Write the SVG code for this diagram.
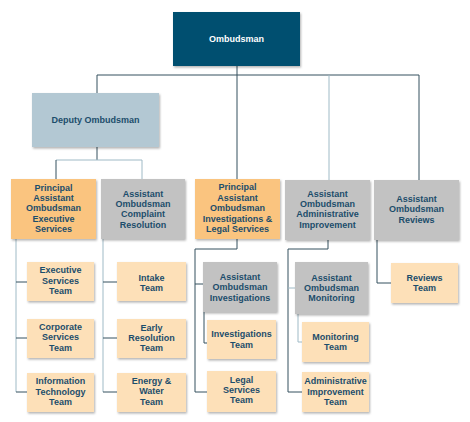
<svg xmlns="http://www.w3.org/2000/svg" width="470" height="422" viewBox="0 0 470 422">
<defs>
<filter id="sh" x="-10%" y="-10%" width="130%" height="130%">
<feDropShadow dx="1" dy="1.5" stdDeviation="1" flood-color="#000" flood-opacity="0.3"/>
</filter>
<style>
text{font-family:"Liberation Sans",Arial,sans-serif;font-size:9px;font-weight:bold;fill:#1c4d6b;text-anchor:middle}
.top rect{fill:#03506f}
.top text{fill:#ffffff}
rect{filter:url(#sh)}
.dep rect{fill:#b3c8d3}
.pri rect{fill:#fac47f}
.grey rect{fill:#c2c2c2}
.team rect{fill:#fde0b8}
.c path{fill:none;stroke:#34505e;stroke-width:1}
.c path.l{stroke:#9fbac6}
</style>
</defs>
<rect width="470" height="422" fill="#ffffff" style="filter:none"/>
<g class="c" id="connectors">
<path d="M237 66V75"/>
<path d="M97 75H419"/>
<path d="M97 75V93"/>
<path d="M237 75V179"/>
<path class="l" d="M329 75V180"/>
<path d="M419 75V180"/>
<path d="M97 147V160"/>
<path class="l" d="M56 160H142"/>
<path d="M56 160V179"/>
<path class="l" d="M142 160V179"/>
<path class="l" d="M16 239V392"/>
<path d="M16 282H27M16 338H27M16 392H27"/>
<path class="l" d="M103 239V392"/>
<path d="M103 282H117M103 338H117M103 392H117"/>
<path d="M237 239V249H195V392H207"/>
<path d="M195 284H203"/>
<path d="M204 312V343H207"/>
<path d="M328 240V249H288V392H302"/>
<path class="l" d="M288 288H295"/>
<path class="l" d="M298 314V342H302"/>
<path d="M377 240V283H391"/>
</g>
<g id="ombudsman" class="top"><rect x="173" y="12" width="127" height="54"/><text x="236.5" y="42.3">Ombudsman</text></g>
<g id="deputy" class="dep"><rect x="32" y="93" width="127" height="54"/><text x="95.5" y="123.3">Deputy Ombudsman</text></g>
<g id="pao-exec" class="pri"><rect x="11" y="179" width="85" height="60"/><text><tspan x="53.5" y="190.5">Principal</tspan><tspan x="53.5" y="200.9">Assistant</tspan><tspan x="53.5" y="211.3">Ombudsman</tspan><tspan x="53.5" y="221.7">Executive</tspan><tspan x="53.5" y="232.1">Services</tspan></text></g>
<g id="ao-complaint" class="grey"><rect x="101" y="179" width="84" height="60"/><text><tspan x="143" y="196.5">Assistant</tspan><tspan x="143" y="206.8">Ombudsman</tspan><tspan x="143" y="217.2">Complaint</tspan><tspan x="143" y="227.6">Resolution</tspan></text></g>
<g id="pao-inv" class="pri"><rect x="195" y="179" width="85" height="60"/><text><tspan x="237.5" y="190">Principal</tspan><tspan x="237.5" y="200.5">Assistant</tspan><tspan x="237.5" y="211">Ombudsman</tspan><tspan x="237.5" y="221.5">Investigations &amp;</tspan><tspan x="237.5" y="232">Legal Services</tspan></text></g>
<g id="ao-admin" class="grey"><rect x="285" y="180" width="85" height="60"/><text><tspan x="327.5" y="196.6">Assistant</tspan><tspan x="327.5" y="207">Ombudsman</tspan><tspan x="327.5" y="217.4">Administrative</tspan><tspan x="327.5" y="227.8">Improvement</tspan></text></g>
<g id="ao-reviews" class="grey"><rect x="374" y="180" width="85" height="60"/><text><tspan x="416.5" y="202">Assistant</tspan><tspan x="416.5" y="212.4">Ombudsman</tspan><tspan x="416.5" y="222.8">Reviews</tspan></text></g>
<g id="exec-team" class="team"><rect x="27" y="262" width="67" height="39"/><text><tspan x="60.5" y="273.3">Executive</tspan><tspan x="60.5" y="283.7">Services</tspan><tspan x="60.5" y="294.1">Team</tspan></text></g>
<g id="corp-team" class="team"><rect x="27" y="319" width="67" height="39"/><text><tspan x="60.5" y="330">Corporate</tspan><tspan x="60.5" y="340.4">Services</tspan><tspan x="60.5" y="350.8">Team</tspan></text></g>
<g id="it-team" class="team"><rect x="27" y="373" width="67" height="39"/><text><tspan x="60.5" y="384.3">Information</tspan><tspan x="60.5" y="394.7">Technology</tspan><tspan x="60.5" y="405.1">Team</tspan></text></g>
<g id="intake-team" class="team"><rect x="117" y="262" width="69" height="39"/><text><tspan x="151.5" y="280.5">Intake</tspan><tspan x="151.5" y="290.9">Team</tspan></text></g>
<g id="early-team" class="team"><rect x="117" y="319" width="69" height="39"/><text><tspan x="151.5" y="330.6">Early</tspan><tspan x="151.5" y="341">Resolution</tspan><tspan x="151.5" y="351.4">Team</tspan></text></g>
<g id="energy-team" class="team"><rect x="117" y="373" width="69" height="39"/><text><tspan x="151.5" y="384">Energy &amp;</tspan><tspan x="151.5" y="394.4">Water</tspan><tspan x="151.5" y="404.8">Team</tspan></text></g>
<g id="ao-inv" class="grey"><rect x="203" y="262" width="74" height="50"/><text><tspan x="240" y="280">Assistant</tspan><tspan x="240" y="290.4">Ombudsman</tspan><tspan x="240" y="300.8">Investigations</tspan></text></g>
<g id="inv-team" class="team"><rect x="207" y="320" width="69" height="39"/><text><tspan x="241.5" y="337.3">Investigations</tspan><tspan x="241.5" y="347.7">Team</tspan></text></g>
<g id="legal-team" class="team"><rect x="207" y="371" width="69" height="41"/><text><tspan x="241.5" y="382.6">Legal</tspan><tspan x="241.5" y="393">Services</tspan><tspan x="241.5" y="403.4">Team</tspan></text></g>
<g id="ao-monitoring" class="grey"><rect x="295" y="262" width="73" height="52"/><text><tspan x="331.5" y="280.6">Assistant</tspan><tspan x="331.5" y="291">Ombudsman</tspan><tspan x="331.5" y="301.4">Monitoring</tspan></text></g>
<g id="monitoring-team" class="team"><rect x="302" y="322" width="67" height="40"/><text><tspan x="335.5" y="340">Monitoring</tspan><tspan x="335.5" y="350.4">Team</tspan></text></g>
<g id="admin-team" class="team"><rect x="302" y="372" width="67" height="40"/><text><tspan x="335.5" y="384.3">Administrative</tspan><tspan x="335.5" y="394.7">Improvement</tspan><tspan x="335.5" y="405">Team</tspan></text></g>
<g id="reviews-team" class="team"><rect x="391" y="263" width="67" height="40"/><text><tspan x="424.5" y="281">Reviews</tspan><tspan x="424.5" y="291.4">Team</tspan></text></g>
</svg>
